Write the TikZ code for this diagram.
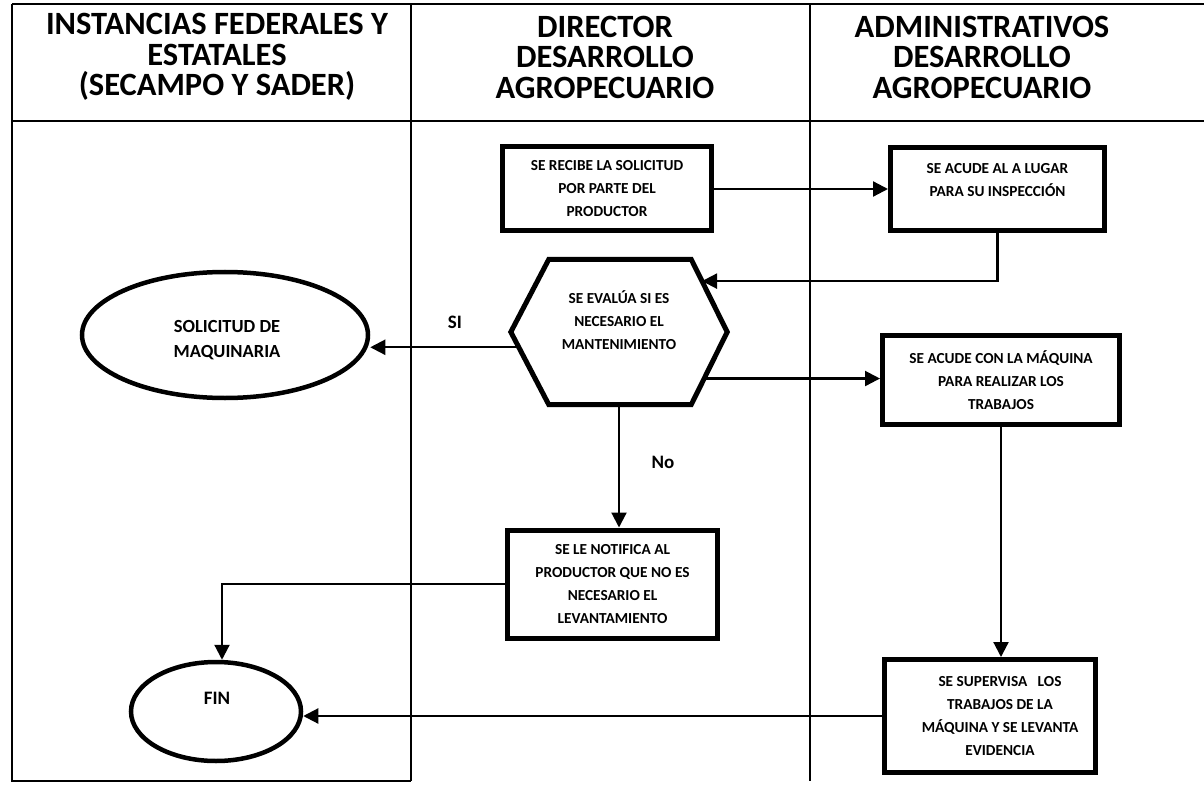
\documentclass[tikz,border=0pt]{standalone}
\usepackage{fontspec}
\setmainfont{Carlito}
\usetikzlibrary{arrows.meta,calc,shapes.geometric}
\begin{document}
\begin{tikzpicture}[x=1pt,y=-1pt,
  frame/.style={line width=1.6pt},
  hdr/.style={font=\bfseries\fontsize{32.5}{30.5}\selectfont, align=center, inner sep=0pt},
  procbox/.style={draw, line width=5pt, rectangle, inner sep=0pt, align=center,
    font=\bfseries\fontsize{15.3}{23}\selectfont},
  txt/.style={inner sep=0pt, align=center, font=\bfseries\fontsize{15.3}{23}\selectfont},
  ovalnode/.style={ellipse, draw, line width=4.5pt, inner sep=0pt},
  ovaltxt/.style={inner sep=0pt, align=center, font=\bfseries\fontsize{18.5}{25}\selectfont},
  lbl/.style={inner sep=0pt, font=\bfseries\fontsize{19}{22}\selectfont},
  conn/.style={line width=2.2pt, -{Triangle[length=15pt,width=15pt]}},
  plain/.style={line width=2.2pt}]
\useasboundingbox (0,0) rectangle (1204,786);

% table frame
\draw[frame] (12,4) -- (1204,4);
\draw[frame] (12,121) -- (1204,121);
\draw[frame] (12,4) -- (12,781) -- (411,781);
\draw[frame] (411,4) -- (411,781);
\draw[frame] (810,4) -- (810,781);

% headers
\node[hdr] (h1) at (217,57) {INSTANCIAS FEDERALES Y\\ESTATALES\\(SECAMPO Y SADER)};
\node[hdr] (h2) at (605,57) {DIRECTOR\\DESARROLLO\\AGROPECUARIO};
\node[hdr] (h3) at (982,57) {ADMINISTRATIVOS\\DESARROLLO\\AGROPECUARIO};

% process boxes
\node[procbox, minimum width=209, minimum height=84] (box1) at (607,189)
  {SE RECIBE LA SOLICITUD\\POR PARTE DEL\\PRODUCTOR};
\node[procbox, minimum width=214, minimum height=83] (box2) at (997.5,189) {};
\node[txt] (box2t) at (997.5,180) {SE ACUDE AL A LUGAR\\PARA SU INSPECCIÓN};
\node[procbox, minimum width=237, minimum height=89] (box4) at (1001,380)
  {SE ACUDE CON LA MÁQUINA\\PARA REALIZAR LOS\\TRABAJOS};
\node[procbox, minimum width=210, minimum height=108] (box3) at (612.5,584)
  {SE LE NOTIFICA AL\\PRODUCTOR QUE NO ES\\NECESARIO EL\\LEVANTAMIENTO};
\node[procbox, minimum width=211, minimum height=113] (box5) at (990,716) {};
\node[txt] (box5t) at (1000,716) {SE SUPERVISA\ \ \ LOS\\TRABAJOS DE LA\\MÁQUINA Y SE LEVANTA\\EVIDENCIA};

% hexagon decision
\node[minimum width=216, minimum height=145, inner sep=0pt] (hex) at (619,332) {};
\coordinate (hexL) at (hex.west);
\coordinate (hexR) at (hex.east);
\coordinate (hexTL) at ($(hex.north west)+(38,0)$);
\coordinate (hexTR) at ($(hex.north east)+(-36,0)$);
\coordinate (hexBL) at ($(hex.south west)+(38,0)$);
\coordinate (hexBR) at ($(hex.south east)+(-36,0)$);
\draw[line width=5pt] (hexL) -- (hexTL) -- (hexTR) -- (hexR) -- (hexBR) -- (hexBL) -- cycle;
\node[txt] (hext) at (619,320) {SE EVALÚA SI ES\\NECESARIO EL\\MANTENIMIENTO};

% ovals
\node[ovalnode, minimum width=286, minimum height=126] (sol) at (225,335) {};
\node[ovaltxt] (solt) at (227,340) {SOLICITUD DE\\MAQUINARIA};
\node[ovalnode, minimum width=170, minimum height=99] (fin) at (216,711.5) {};
\node[ovaltxt, font=\bfseries\fontsize{19}{22}\selectfont] (fint) at (217,698) {FIN};

% labels
\node[lbl] (si) at (455,322) {SI};
\node[lbl] (no) at (663,462) {No};

% connectors
\draw[conn] (box1.east) -- (box1.east -| box2.west);
\coordinate (hexin) at ($(hexTR)!0.3!(hexR)$);
\draw[conn] (box2.south) |- (hexin);
\coordinate (sistart) at ($(hexL)!0.21!(hexBL)$);
\draw[conn] (sistart) -- (sistart -| sol.east);
\draw[conn] (hex.south) -- (hex.south |- box3.north);
\coordinate (hexout) at ($(hexR)!0.64!(hexBR)$);
\draw[conn] (hexout) -- (hexout -| box4.west);
\draw[conn] (box4.south) -- (box4.south |- box5.north);
\coordinate (finin) at ($(fin.north)+(6,0)$);
\draw[conn] (box3.west) -| (finin);
\draw[conn] (box5.west) -- (box5.west -| fin.east);
\end{tikzpicture}
\end{document}
